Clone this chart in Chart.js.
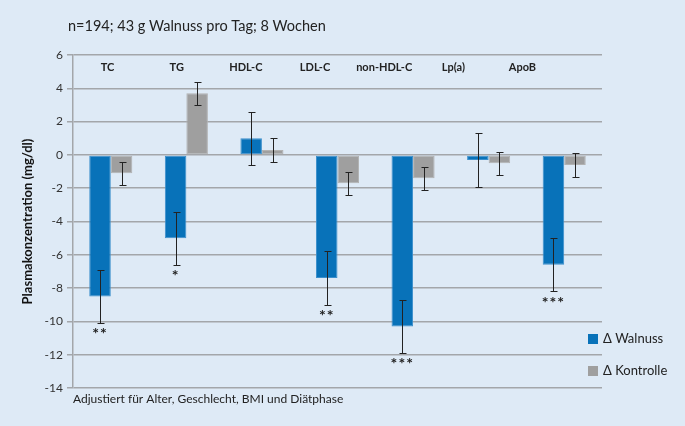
<!DOCTYPE html>
<html>
<head>
<meta charset="utf-8">
<script src="https://cdn.jsdelivr.net/npm/chart.js@4.4.0/dist/chart.umd.min.js"></script>
<style>
  html, body { margin: 0; padding: 0; background: #deeaf6; }
  #wrap { width: 685px; height: 426px; }
</style>
</head>
<body>
<div id="wrap"><canvas id="chart" width="685" height="426"></canvas></div>
<script>
// ----------------------------
// Data
// ----------------------------
const categories = ['TC', 'TG', 'HDL-C', 'LDL-C', 'non-HDL-C', 'Lp(a)', 'ApoB'];
const walnut = [-8.5, -5.0, 1.0, -7.4, -10.3, -0.3, -6.6];
const control = [-1.1, 3.7, 0.3, -1.7, -1.4, -0.5, -0.6];
const walnutErr = [1.6, 1.6, 1.6, 1.6, 1.6, 1.6, 1.6];
const controlErr = [0.7, 0.7, 0.7, 0.7, 0.7, 0.7, 0.7];
const significance = ['**', '*', '', '**', '***', '', '***'];
const seriesNames = ['\u0394 Walnuss', '\u0394 Kontrolle'];
const yTicks = [-14, -12, -10, -8, -6, -4, -2, 0, 2, 4, 6];

const titleText = 'n=194; 43 g Walnuss pro Tag; 8 Wochen';
const footText = 'Adjustiert f\u00fcr Alter, Geschlecht, BMI und Di\u00e4tphase';
const yTitle = 'Plasmakonzentration (mg/dl)';

const FONT = 'Lato, "Open Sans", sans-serif';
const BLUE = '#0872b9';
const GRAY = '#9f9f9f';

// ----------------------------
// Extras: error bars, stars, labels, legend
// ----------------------------
const extrasPlugin = {
    id: 'extras',
    afterDatasetsDraw(chart) {
        const ctx = chart.ctx;
        const y = chart.scales.y;
        const area = chart.chartArea;
        const errs = [walnutErr, controlErr];

        ctx.save();
        // error bars
        ctx.strokeStyle = '#222';
        ctx.lineWidth = 1;
        chart.data.datasets.forEach((ds, di) => {
            const meta = chart.getDatasetMeta(di);
            meta.data.forEach((bar, i) => {
                const v = ds.data[i];
                const top = Math.round(y.getPixelForValue(v + errs[di][i])) + 0.5;
                const bot = Math.round(y.getPixelForValue(v - errs[di][i])) + 0.5;
                const x = Math.round(bar.x) + 0.5;
                ctx.beginPath();
                ctx.moveTo(x, top); ctx.lineTo(x, bot);
                ctx.moveTo(x - 3, top); ctx.lineTo(x + 4, top);
                ctx.moveTo(x - 3, bot); ctx.lineTo(x + 4, bot);
                ctx.stroke();
            });
        });

        // significance stars under walnut bars
        ctx.fillStyle = '#222';
        ctx.font = 'bold 16px ' + FONT;
        ctx.textAlign = 'center';
        ctx.textBaseline = 'top';
        ctx.letterSpacing = '1px';
        const wMeta = chart.getDatasetMeta(0);
        significance.forEach((s, i) => {
            if (!s) return;
            const bot = y.getPixelForValue(walnut[i] - walnutErr[i]);
            ctx.fillText(s, wMeta.data[i].x, bot + 3);
        });
        ctx.letterSpacing = '0px';

        // category labels across the top of the plot
        ctx.font = 'bold 11px ' + FONT;
        ctx.textBaseline = 'middle';
        const step = (area.right - area.left) / 7.65;
        categories.forEach((c, i) => {
            ctx.fillText(c, area.left + step * (i + 0.5), area.top + 12);
        });

        // title and footnote
        ctx.font = '14.5px ' + FONT;
        ctx.textAlign = 'left';
        ctx.fillText(titleText, 68, 26);
        ctx.font = '12px ' + FONT;
        ctx.fillText(footText, area.left, 399);

        // legend
        const colors = [BLUE, GRAY];
        const rows = [339, 371];
        ctx.font = '13px ' + FONT;
        seriesNames.forEach((n, i) => {
            ctx.fillStyle = colors[i];
            ctx.fillRect(588, rows[i] - 5, 10, 10);
            ctx.fillStyle = '#222';
            ctx.fillText(n, 603, rows[i]);
        });
        ctx.restore();
    }
};

const bgPlugin = {
    id: 'bg',
    beforeDraw(chart) {
        const ctx = chart.ctx;
        ctx.save();
        ctx.fillStyle = '#deeaf6';
        ctx.fillRect(0, 0, chart.width, chart.height);
        ctx.restore();
    }
};

// ----------------------------
// Chart
// ----------------------------
new Chart(document.getElementById('chart').getContext('2d'), {
    type: 'bar',
    data: {
        labels: categories,
        datasets: [{
            label: seriesNames[0],
            data: walnut,
            backgroundColor: BLUE,
            borderColor: '#3b8fcc',
            borderWidth: 1,
            borderSkipped: false
        }, {
            label: seriesNames[1],
            data: control,
            backgroundColor: GRAY,
            borderColor: '#b2b2b2',
            borderWidth: 1,
            borderSkipped: false
        }]
    },
    options: {
        responsive: false,
        animation: false,
        layout: { padding: { top: 55, bottom: 38, left: 0, right: 83 } },
        datasets: { bar: { categoryPercentage: 0.57, barPercentage: 1.0 } },
        plugins: {
            legend: { display: false },
            tooltip: { enabled: false }
        },
        scales: {
            x: {
                display: false,
                grid: { display: false }
            },
            y: {
                min: -14,
                max: 6,
                afterBuildTicks: function(scale) {
                    scale.ticks = yTicks.map(v => ({ value: v }));
                },
                afterFit: function(scale) { scale.width = 73; },
                border: { color: '#a3a6aa', width: 1.5 },
                grid: { color: '#a3a6aa', lineWidth: 1.5, tickLength: 6 },
                ticks: {
                    color: '#333',
                    padding: 4,
                    font: { family: FONT, size: 12 }
                },
                title: {
                    display: true,
                    text: yTitle,
                    color: '#111',
                    padding: { top: 20, bottom: 0 },
                    font: { family: FONT, size: 13, weight: 'bold' }
                }
            }
        }
    },
    plugins: [bgPlugin, extrasPlugin]
});
</script>
</body>
</html>
